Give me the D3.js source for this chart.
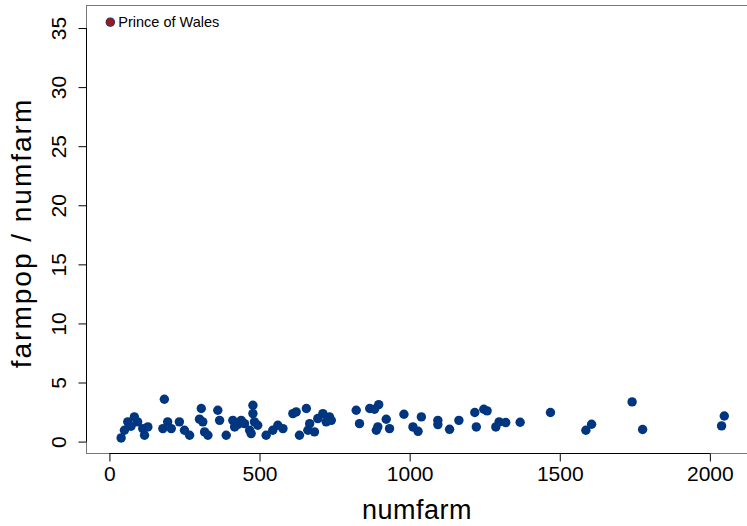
<!DOCTYPE html>
<html>
<head>
<meta charset="utf-8">
<script src="https://cdn.jsdelivr.net/npm/d3@7"></script>
<style>
  body { margin: 0; background: #fff; }
  svg { display: block; font-family: "Liberation Sans", Arial, sans-serif; }
  .tick text { fill: #000; }
</style>
</head>
<body>
<div id="chart"></div>
<script>
// numfarm (x) and farmpop / numfarm (y)
const numfarm = [39, 50, 61, 72, 83, 94, 111, 117, 128, 178, 183, 194, 206, 233, 250, 267,
	300, 306, 311, 317, 328, 361, 367, 389, 411, 417, 428, 439, 450, 467, 472, 478, 478, 483, 494,
	522, 544, 561, 578, 611, 622, 633, 656, 661, 667, 683, 694, 711, 722, 733, 739,
	822, 833, 867, 883, 889, 894, 897, 922, 933, 981, 1011, 1028, 1039, 1094, 1094, 1133, 1164,
	1217, 1222, 1247, 1258, 1287, 1298, 1320, 1368, 1469, 1587, 1606, 1741, 1776, 2039, 2048];
const ratio = [0.31, 0.96, 1.67, 1.3, 2.09, 1.67, 1.1, 0.54, 1.24, 1.1, 3.58, 1.67, 1.1, 1.67, 0.96, 0.54,
	1.9, 2.8, 1.67, 0.82, 0.54, 2.65, 1.8, 0.54, 1.8, 1.24, 1.45, 1.8, 1.52, 0.96, 0.68, 3.07, 2.37, 1.67, 1.38,
	0.54, 0.96, 1.38, 1.1, 2.37, 2.51, 0.54, 2.8, 0.96, 1.52, 0.82, 1.95, 2.37, 1.67, 2.09, 1.8,
	2.65, 1.52, 2.8, 2.74, 0.96, 1.24, 3.13, 1.89, 1.1, 2.31, 1.24, 0.87, 2.09, 1.8, 1.44, 1.04, 1.8,
	2.46, 1.24, 2.74, 2.6, 1.24, 1.67, 1.61, 1.64, 2.46, 0.96, 1.47, 3.36, 1.02, 1.33, 2.17];

// the outlier, labelled
const outlierName = ["Prince of Wales"];
const outlierX = [3];
const outlierY = [35.5];

const xTicks = [0, 500, 1000, 1500, 2000];
const yTicks = [0, 5, 10, 15, 20, 25, 30, 35];

const width = 747, height = 526;
const blue = "#003580", red = "#9b1b1b";

const svg = d3.select("#chart").append("svg")
	.attr("width", width)
	.attr("height", height);

const x = d3.scaleLinear().domain([-78, 2127]).range([86, 748]);
const y = d3.scaleLinear().domain([-1.05, 36.95]).range([454, 5]);

// plot box
svg.append("rect")
	.attr("x", 86.5).attr("y", 5.5)
	.attr("width", 662).attr("height", 448)
	.attr("fill", "none")
	.attr("stroke", "#777")
	.attr("stroke-width", 1);

// x axis
let xAxis = svg.append("g")
	.attr("transform", "translate(0,453.5)")
	.call(d3.axisBottom(x).tickValues(xTicks).tickFormat(d3.format("d"))
		.tickSize(8).tickPadding(5).tickSizeOuter(0));
xAxis.select(".domain").remove();
xAxis.append("line")
	.attr("x1", x(0)).attr("x2", x(2000))
	.attr("stroke", "#000");
xAxis.selectAll(".tick line").attr("stroke", "#000");
xAxis.selectAll(".tick text")
	.attr("font-size", 21)
	.attr("font-family", "Liberation Sans, Arial, sans-serif");

// y axis
let yAxis = svg.append("g")
	.attr("transform", "translate(86.5,0)")
	.call(d3.axisLeft(y).tickValues(yTicks).tickSize(8).tickSizeOuter(0));
yAxis.select(".domain").remove();
yAxis.append("line")
	.attr("y1", y(0)).attr("y2", y(35))
	.attr("stroke", "#000");
yAxis.selectAll(".tick line").attr("stroke", "#000");
yAxis.selectAll(".tick text")
	.attr("x", null).attr("dy", null)
	.attr("transform", "translate(-21,0) rotate(-90)")
	.attr("text-anchor", "middle")
	.attr("font-size", 21)
	.attr("font-family", "Liberation Sans, Arial, sans-serif");

// axis titles
svg.append("text")
	.attr("x", 417).attr("y", 519)
	.attr("text-anchor", "middle")
	.attr("font-size", 27)
	.attr("letter-spacing", 0.5)
	.text("numfarm");

svg.append("text")
	.attr("transform", "translate(31,233) rotate(-90)")
	.attr("text-anchor", "middle")
	.attr("font-size", 28)
	.attr("letter-spacing", 2)
	.text("farmpop / numfarm");

// points
svg.append("g").selectAll("circle")
	.data(numfarm.map((d, i) => ({x: d, y: ratio[i]})))
	.join("circle")
	.attr("cx", d => x(d.x))
	.attr("cy", d => y(d.y))
	.attr("r", 4.7)
	.attr("fill", blue);

// labelled outlier
let out = svg.append("g").selectAll("g")
	.data(outlierName.map((n, i) => ({name: n, x: outlierX[i], y: outlierY[i]})))
	.join("g");
out.append("circle")
	.attr("cx", d => x(d.x)).attr("cy", d => y(d.y))
	.attr("r", 4.7).attr("fill", blue);
out.append("circle")
	.attr("cx", d => x(d.x)).attr("cy", d => y(d.y))
	.attr("r", 4).attr("fill", red);
out.append("text")
	.attr("x", d => x(d.x) + 8).attr("y", d => y(d.y) + 5)
	.attr("font-size", 14.5)
	.text(d => d.name);
</script>
</body>
</html>
